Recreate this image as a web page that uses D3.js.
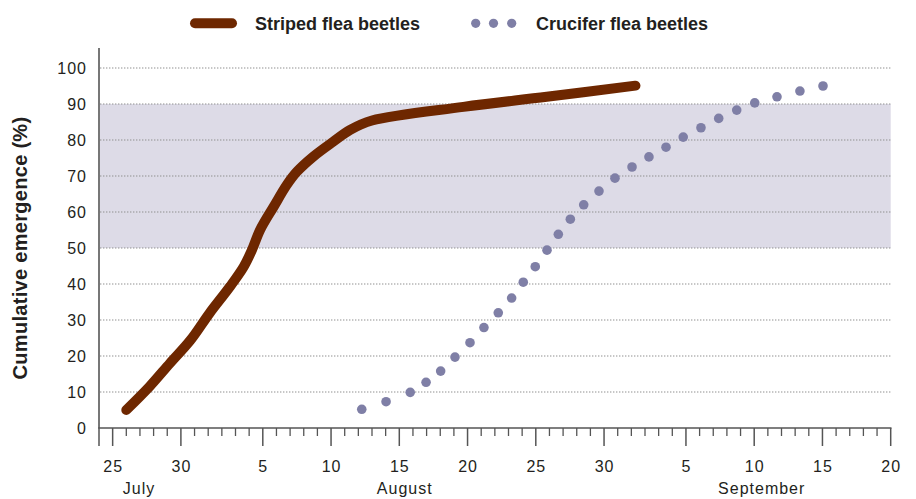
<!DOCTYPE html>
<html>
<head>
<meta charset="utf-8">
<script src="https://cdn.jsdelivr.net/npm/d3@7"></script>
<style>
  html, body { margin: 0; padding: 0; background: #fff; }
  svg { display: block; font-family: "Liberation Sans", Arial, Helvetica, sans-serif; }
  .tick-label { font-size: 16px; fill: #231f20; letter-spacing: 1px; }
</style>
</head>
<body>
<svg id="chart"></svg>
<script>
// Days are counted from July 1 (Aug 1 = 32, Sep 1 = 63)
const stripedDay = [26.0, 27.7, 29.2, 30.7, 32.1, 33.6, 34.6, 35.2, 35.8, 36.8, 37.75, 38.5, 39.7, 41.15, 42.4, 44.0, 50.7, 56.8, 63.3];
const stripedPct = [5.0, 11.5, 18.0, 24.4, 31.9, 39.3, 44.8, 49.4, 55.0, 61.5, 67.5, 71.2, 75.4, 79.5, 82.8, 85.4, 89.2, 92.0, 95.1];

const cruciferDay = [43.25, 45.03, 46.8, 47.96, 49.03, 50.08, 51.18, 52.2, 53.25, 54.23, 55.08, 55.96, 56.82, 57.65, 58.53,
                     59.51, 60.63, 61.8, 63.05, 64.29, 65.54, 66.8, 68.1, 69.4, 70.72, 72.04, 73.67, 75.35, 77.04];
const cruciferPct = [5.2, 7.3, 9.9, 12.7, 15.8, 19.7, 23.7, 27.9, 32.0, 36.1, 40.5, 44.8, 49.4, 53.8, 58.0,
                     62.0, 65.8, 69.4, 72.5, 75.3, 78.0, 80.8, 83.4, 86.0, 88.3, 90.3, 92.0, 93.6, 95.0];

const majorTickDays = [24, 25, 30, 36, 41, 46, 51, 56, 61, 67, 72, 77, 82];
const majorTickLabels = ["", "25", "30", "5", "10", "15", "20", "25", "30", "5", "10", "15", "20"];
const monthNames = ["July", "August", "September"];
const monthLabelDay = [26.93, 46.4, 72.55];
const yTicks = [0, 10, 20, 30, 40, 50, 60, 70, 80, 90, 100];
const bandRange = [50, 90];
const seriesNames = ["Striped flea beetles", "Crucifer flea beetles"];

const width = 916, height = 499;
const brown = "#6e2700", dotColor = "#7f7fa6", band = "#dddbe7", axisColor = "#555", textColor = "#231f20";

const svg = d3.select("#chart").attr("width", width).attr("height", height);

const x = d3.scaleLinear().domain([24, 82]).range([99, 890.7]);
const y = d3.scaleLinear().domain([0, 100]).range([428, 68]);

// shaded band
svg.append("rect")
  .attr("x", x(24) + 1).attr("width", x(82) - x(24) - 1)
  .attr("y", y(bandRange[1])).attr("height", y(bandRange[0]) - y(bandRange[1]))
  .attr("fill", band);

// dotted grid lines
svg.append("g").selectAll("line")
  .data(yTicks.filter(d => d > 0))
  .enter().append("line")
  .attr("x1", x(24) + 1).attr("x2", x(82))
  .attr("y1", d => y(d)).attr("y2", d => y(d))
  .attr("stroke", "#8f8f8f").attr("stroke-width", 1.2)
  .attr("stroke-dasharray", "1.4,1.6");

// y labels
svg.append("g").selectAll("text")
  .data(yTicks)
  .enter().append("text")
  .attr("class", "tick-label")
  .attr("x", 87).attr("y", d => y(d))
  .attr("dy", "0.36em")
  .attr("text-anchor", "end")
  .text(d => d);

// y axis line
svg.append("line")
  .attr("x1", x(24)).attr("x2", x(24))
  .attr("y1", 48).attr("y2", y(0))
  .attr("stroke", axisColor).attr("stroke-width", 1.6);

// x axis: minor ticks every day, major ticks with labels
const xAxisG = svg.append("g").attr("transform", `translate(0, ${y(0)})`);
xAxisG.append("line")
  .attr("x1", x(24) - 0.8).attr("x2", x(82) + 0.8)
  .attr("stroke", axisColor).attr("stroke-width", 1.6);
xAxisG.selectAll(".minor")
  .data(d3.range(24, 83).filter(d => !majorTickDays.includes(d)))
  .enter().append("line")
  .attr("x1", d => x(d)).attr("x2", d => x(d))
  .attr("y1", 0).attr("y2", 8)
  .attr("stroke", axisColor).attr("stroke-width", 1.3);
xAxisG.selectAll(".major")
  .data(majorTickDays)
  .enter().append("line")
  .attr("x1", d => x(d)).attr("x2", d => x(d))
  .attr("y1", 0).attr("y2", 18)
  .attr("stroke", axisColor).attr("stroke-width", 1.5);
xAxisG.selectAll(".xlabel")
  .data(majorTickDays)
  .enter().append("text")
  .attr("class", "tick-label")
  .attr("x", d => x(d) + 0.5).attr("y", 44)
  .attr("text-anchor", "middle")
  .text((d, i) => majorTickLabels[i]);
xAxisG.selectAll(".month")
  .data(monthNames)
  .enter().append("text")
  .attr("class", "tick-label")
  .attr("x", (d, i) => x(monthLabelDay[i])).attr("y", 66)
  .attr("text-anchor", "middle")
  .text(d => d);

// y title
svg.append("text")
  .attr("transform", `translate(27, 248) rotate(-90)`)
  .attr("text-anchor", "middle")
  .attr("font-size", 20).attr("font-weight", "bold")
  .attr("letter-spacing", 0.3)
  .attr("fill", textColor)
  .text("Cumulative emergence (%)");

// striped flea beetle line
const striped = stripedDay.map((d, i) => [d, stripedPct[i]]);
svg.append("path")
  .datum(striped)
  .attr("fill", "none")
  .attr("stroke", brown).attr("stroke-width", 10)
  .attr("stroke-linecap", "round").attr("stroke-linejoin", "round")
  .attr("d", d3.line().x(d => x(d[0])).y(d => y(d[1])).curve(d3.curveCatmullRom.alpha(0.5)));

// crucifer flea beetle dots
svg.append("g").selectAll("circle")
  .data(cruciferDay.map((d, i) => [d, cruciferPct[i]]))
  .enter().append("circle")
  .attr("cx", d => x(d[0])).attr("cy", d => y(d[1]))
  .attr("r", 4.8)
  .attr("fill", dotColor);

// legend
const legend = svg.append("g").attr("font-size", 18).attr("font-weight", "bold").attr("fill", textColor);
legend.append("line")
  .attr("x1", 195).attr("x2", 232).attr("y1", 23.3).attr("y2", 23.3)
  .attr("stroke", brown).attr("stroke-width", 10).attr("stroke-linecap", "round");
legend.append("text").attr("x", 255).attr("y", 30).text(seriesNames[0]);
legend.selectAll("circle")
  .data([475.7, 493.5, 511.7])
  .enter().append("circle")
  .attr("cx", d => d).attr("cy", 23.3).attr("r", 4.6)
  .attr("fill", dotColor);
legend.append("text").attr("x", 536).attr("y", 30).text(seriesNames[1]);
</script>
</body>
</html>
